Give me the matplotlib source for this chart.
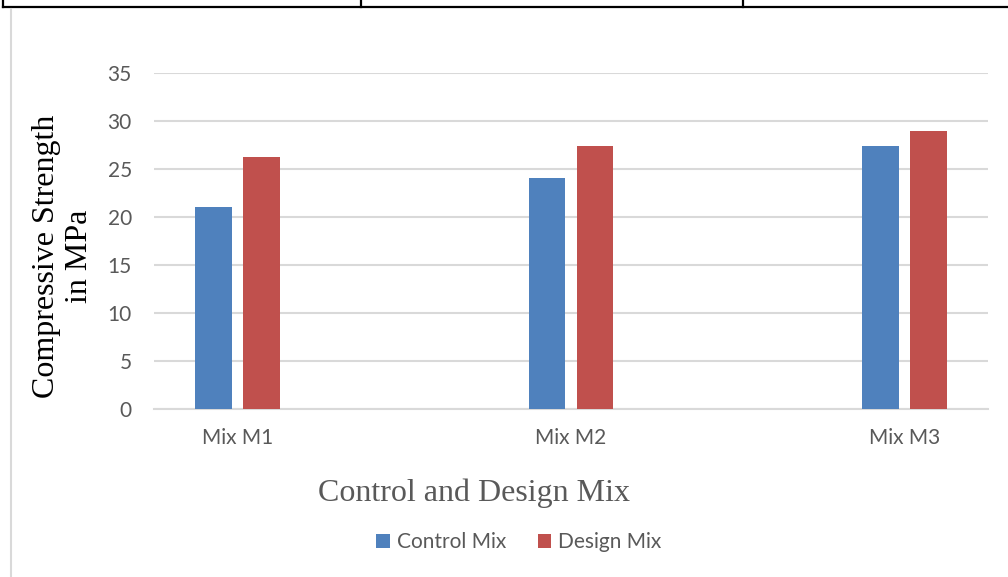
# ======================================
# COMPRESSIVE STRENGTH - CONTROL VS DESIGN MIX
# ======================================

import numpy as np
import matplotlib

matplotlib.use("Agg")

import matplotlib.pyplot as plt
from matplotlib.lines import Line2D


# ======================================
# DATA
# ======================================

mixes = ["Mix M1", "Mix M2", "Mix M3"]
control_mix = [21.0, 24.1, 27.4]
design_mix = [26.2, 27.4, 29.0]
y_ticks = [0, 5, 10, 15, 20, 25, 30, 35]


# ======================================
# STYLE
# ======================================

BLUE = "#4F81BD"
RED = "#C0504D"
GRID = "#D9D9D9"
TEXT = "#595959"
SANS = ["Lato", "DejaVu Sans"]
SERIF = ["Liberation Serif", "DejaVu Serif"]
TICK_SIZE = 15


# ======================================
# FIGURE
# ======================================

W, H = 1008, 577
fig = plt.figure(figsize=(W / 100, H / 100), dpi=100)

# page decorations: table border above the chart and the chart frame edge
deco = fig.add_axes([0, 0, 1, 1])
deco.set_xlim(0, W)
deco.set_ylim(H, 0)
deco.axis("off")
deco.add_line(Line2D([3, W], [7, 7], color="black", lw=1.6))
for xv in [3, 361, 743]:
    deco.add_line(Line2D([xv, xv], [0, 7], color="black", lw=1.6))
deco.add_line(Line2D([10.5, 10.5], [9, H], color=GRID, lw=1.5))

ax = fig.add_axes([154 / W, 1 - 409 / H, (988 - 154) / W, (409 - 73) / H])

x = np.arange(len(mixes))
width = 0.11
offset = 0.072

ax.bar(x - offset, control_mix, width, color=BLUE, label="Control Mix", zorder=3)
ax.bar(x + offset, design_mix, width, color=RED, label="Design Mix", zorder=3)

ax.set_xlim(-0.25, 2.25)
ax.set_ylim(0, 35)
ax.set_yticks(y_ticks)
ax.set_xticks(x)
ax.set_xticklabels(mixes)

ax.yaxis.grid(True, color=GRID, lw=1.5, zorder=0)
ax.set_axisbelow(True)
for side in ["top", "right", "left"]:
    ax.spines[side].set_visible(False)
ax.spines["bottom"].set_color(GRID)
ax.spines["bottom"].set_linewidth(1.5)

ax.tick_params(axis="y", length=0, pad=16, labelsize=TICK_SIZE, labelcolor=TEXT)
ax.tick_params(axis="x", length=0, pad=14, labelsize=TICK_SIZE, labelcolor=TEXT)
for lbl in ax.get_xticklabels() + ax.get_yticklabels():
    lbl.set_family(SANS)

# y-axis title (two lines, serif)
fig.text(63 / W, 1 - 256 / H, "Compressive Strength\nin MPa", family=SERIF,
         fontsize=23, color="black", rotation=90, ha="center", va="center",
         multialignment="center", linespacing=1.2)

fig.text(474 / W, 1 - 493 / H, "Control and Design Mix", family=SERIF,
         fontsize=23, color=TEXT, ha="center", va="center")

fig.legend(loc="center", bbox_to_anchor=(519 / W, 1 - 542 / H), ncol=2,
           frameon=False, handlelength=0.65, handleheight=0.65,
           handletextpad=0.35, columnspacing=1.5,
           prop={"family": SANS, "size": TICK_SIZE}, labelcolor=TEXT)

plt.savefig("out.png", dpi=100)
